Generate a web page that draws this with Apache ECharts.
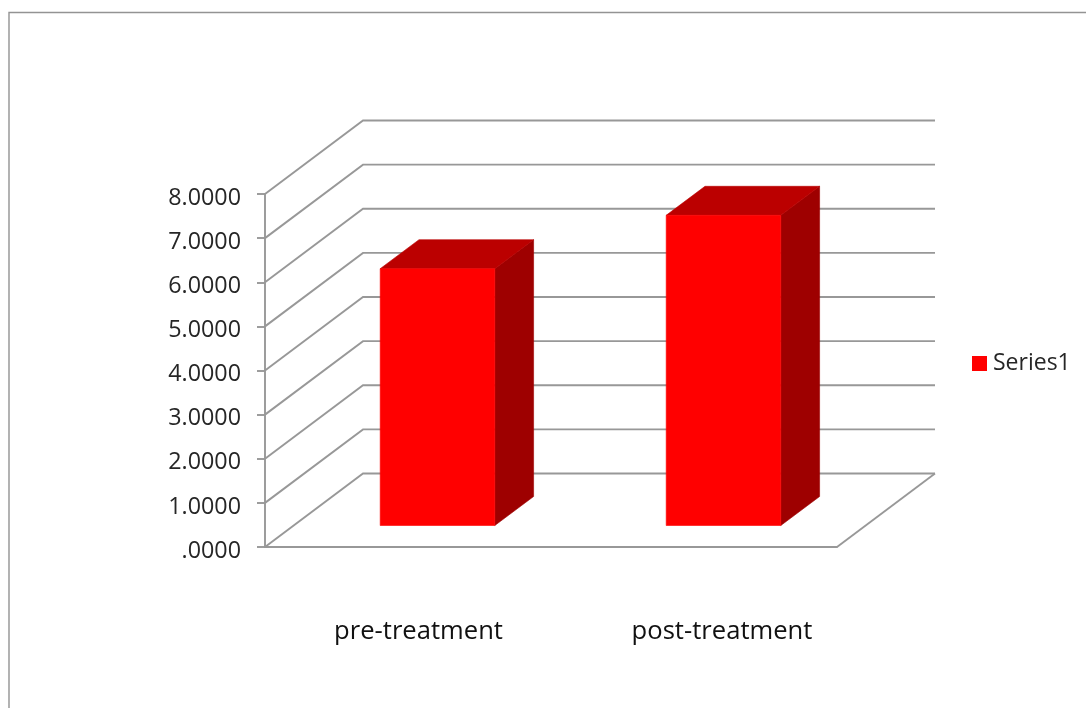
<!DOCTYPE html>
<html>
<head>
<meta charset="utf-8">
<style>
  html, body { margin: 0; padding: 0; background: #fff; }
  #chart { width: 1086px; height: 708px; }
</style>
<script src="https://cdn.jsdelivr.net/npm/echarts@6/dist/echarts.min.js"></script>
</head>
<body>
<div id="chart"></div>
<script>
const categories = ['pre-treatment', 'post-treatment'];
const seriesName = 'Series1';
const seriesValues = [5.82, 7.03];
const yTicks = [0, 1, 2, 3, 4, 5, 6, 7, 8];
const yTickLabels = ['.0000', '1.0000', '2.0000', '3.0000', '4.0000', '5.0000', '6.0000', '7.0000', '8.0000'];

// Oblique projection of the chart box, in pixels
const WALL_DX = 98;
const WALL_DY = -73.5;
const BAR_OFFSET_X = 29.5;
const BAR_OFFSET_Y = -21.5;
const BAR_DEPTH_X = 38.8;
const BAR_DEPTH_Y = -29;
const BAR_WIDTH = 114.6;

const LINE_COLOR = '#989898';
const LINE_WIDTH = 1.9;
const FONT = '"Open Sans", "Noto Sans", sans-serif';

function renderWall(params, api) {
  const y = api.coord([0, api.value(1)])[1];
  const sys = params.coordSys;
  const x0 = sys.x;
  const x1 = sys.x + sys.width;
  const children = [{
    type: 'polyline',
    shape: { points: [[x0, y], [x0 + WALL_DX, y + WALL_DY], [x1 + WALL_DX, y + WALL_DY]] },
    style: { fill: null, stroke: LINE_COLOR, lineWidth: LINE_WIDTH }
  }];
  if (api.value(1) === 0) {
    children.push({
      type: 'line',
      shape: { x1: x1, y1: y, x2: x1 + WALL_DX, y2: y + WALL_DY },
      style: { stroke: LINE_COLOR, lineWidth: LINE_WIDTH }
    });
  }
  return { type: 'group', children: children };
}

function renderBar(params, api) {
  const top = api.coord([api.value(0), api.value(1)]);
  const base = api.coord([api.value(0), 0]);
  const xl = top[0] + BAR_OFFSET_X - BAR_WIDTH / 2;
  const xr = xl + BAR_WIDTH;
  const yt = top[1] + BAR_OFFSET_Y;
  const yb = base[1] + BAR_OFFSET_Y;
  const dx = BAR_DEPTH_X;
  const dy = BAR_DEPTH_Y;
  return {
    type: 'group',
    children: [
      {
        type: 'polygon',
        shape: { points: [[xr, yt], [xr + dx, yt + dy], [xr + dx, yb + dy], [xr, yb]] },
        style: { fill: '#9e0000', stroke: '#9e0000', lineWidth: 0.6 }
      },
      {
        type: 'polygon',
        shape: { points: [[xl, yt], [xl + dx, yt + dy], [xr + dx, yt + dy], [xr, yt]] },
        style: { fill: '#bb0000', stroke: '#bb0000', lineWidth: 0.6 }
      },
      {
        type: 'rect',
        shape: { x: xl, y: yt, width: BAR_WIDTH, height: yb - yt },
        style: { fill: '#ff0000', stroke: '#ff0000', lineWidth: 0.6 }
      }
    ]
  };
}

const chart = echarts.init(document.getElementById('chart'), null, { renderer: 'canvas' });
chart.setOption({
  animation: false,
  backgroundColor: '#ffffff',
  graphic: [{
    type: 'polyline',
    silent: true,
    shape: { points: [[9, 708], [9, 12.5], [1086, 12.5]] },
    style: { fill: null, stroke: '#939393', lineWidth: 1.4 }
  }],
  legend: {
    data: [seriesName],
    left: 972,
    top: 352,
    padding: 0,
    itemWidth: 15,
    itemHeight: 15,
    itemGap: 0,
    icon: 'rect',
    textStyle: { fontFamily: FONT, fontSize: 23, color: '#262626', padding: [0, 0, 0, 1] }
  },
  grid: { left: 265, top: 194, width: 572, height: 353 },
  xAxis: {
    type: 'category',
    data: categories,
    axisLine: { show: true, lineStyle: { color: LINE_COLOR, width: LINE_WIDTH } },
    axisTick: { show: false },
    axisLabel: {
      interval: 0,
      margin: 72,
      fontFamily: FONT,
      fontSize: 25.6,
      color: '#111111',
      formatter: (v, i) => '{c' + i + '|' + v + '}',
      rich: {
        c0: { padding: [0, 0, 0, 21], fontFamily: FONT, fontSize: 25.6, color: '#111111' },
        c1: { padding: [0, 0, 0, 56], fontFamily: FONT, fontSize: 25.6, color: '#111111' }
      }
    }
  },
  yAxis: {
    type: 'value',
    min: 0,
    max: 8,
    interval: 1,
    splitLine: { show: false },
    axisLine: { show: true, lineStyle: { color: LINE_COLOR, width: LINE_WIDTH } },
    axisTick: { show: true, length: 8, lineStyle: { color: LINE_COLOR, width: LINE_WIDTH } },
    axisLabel: {
      margin: 24,
      verticalAlign: 'top',
      lineHeight: 8,
      fontFamily: FONT,
      fontSize: 23.3,
      color: '#262626',
      formatter: v => yTickLabels[yTicks.indexOf(v)]
    }
  },
  series: [
    {
      type: 'custom',
      name: 'walls',
      silent: true,
      clip: false,
      renderItem: renderWall,
      encode: { x: 0, y: 1 },
      data: yTicks.map(v => [0, v])
    },
    {
      type: 'custom',
      name: seriesName,
      clip: false,
      itemStyle: { color: '#ff0000' },
      renderItem: renderBar,
      encode: { x: 0, y: 1 },
      data: seriesValues.map((v, i) => [i, v])
    }
  ]
});
</script>
</body>
</html>
